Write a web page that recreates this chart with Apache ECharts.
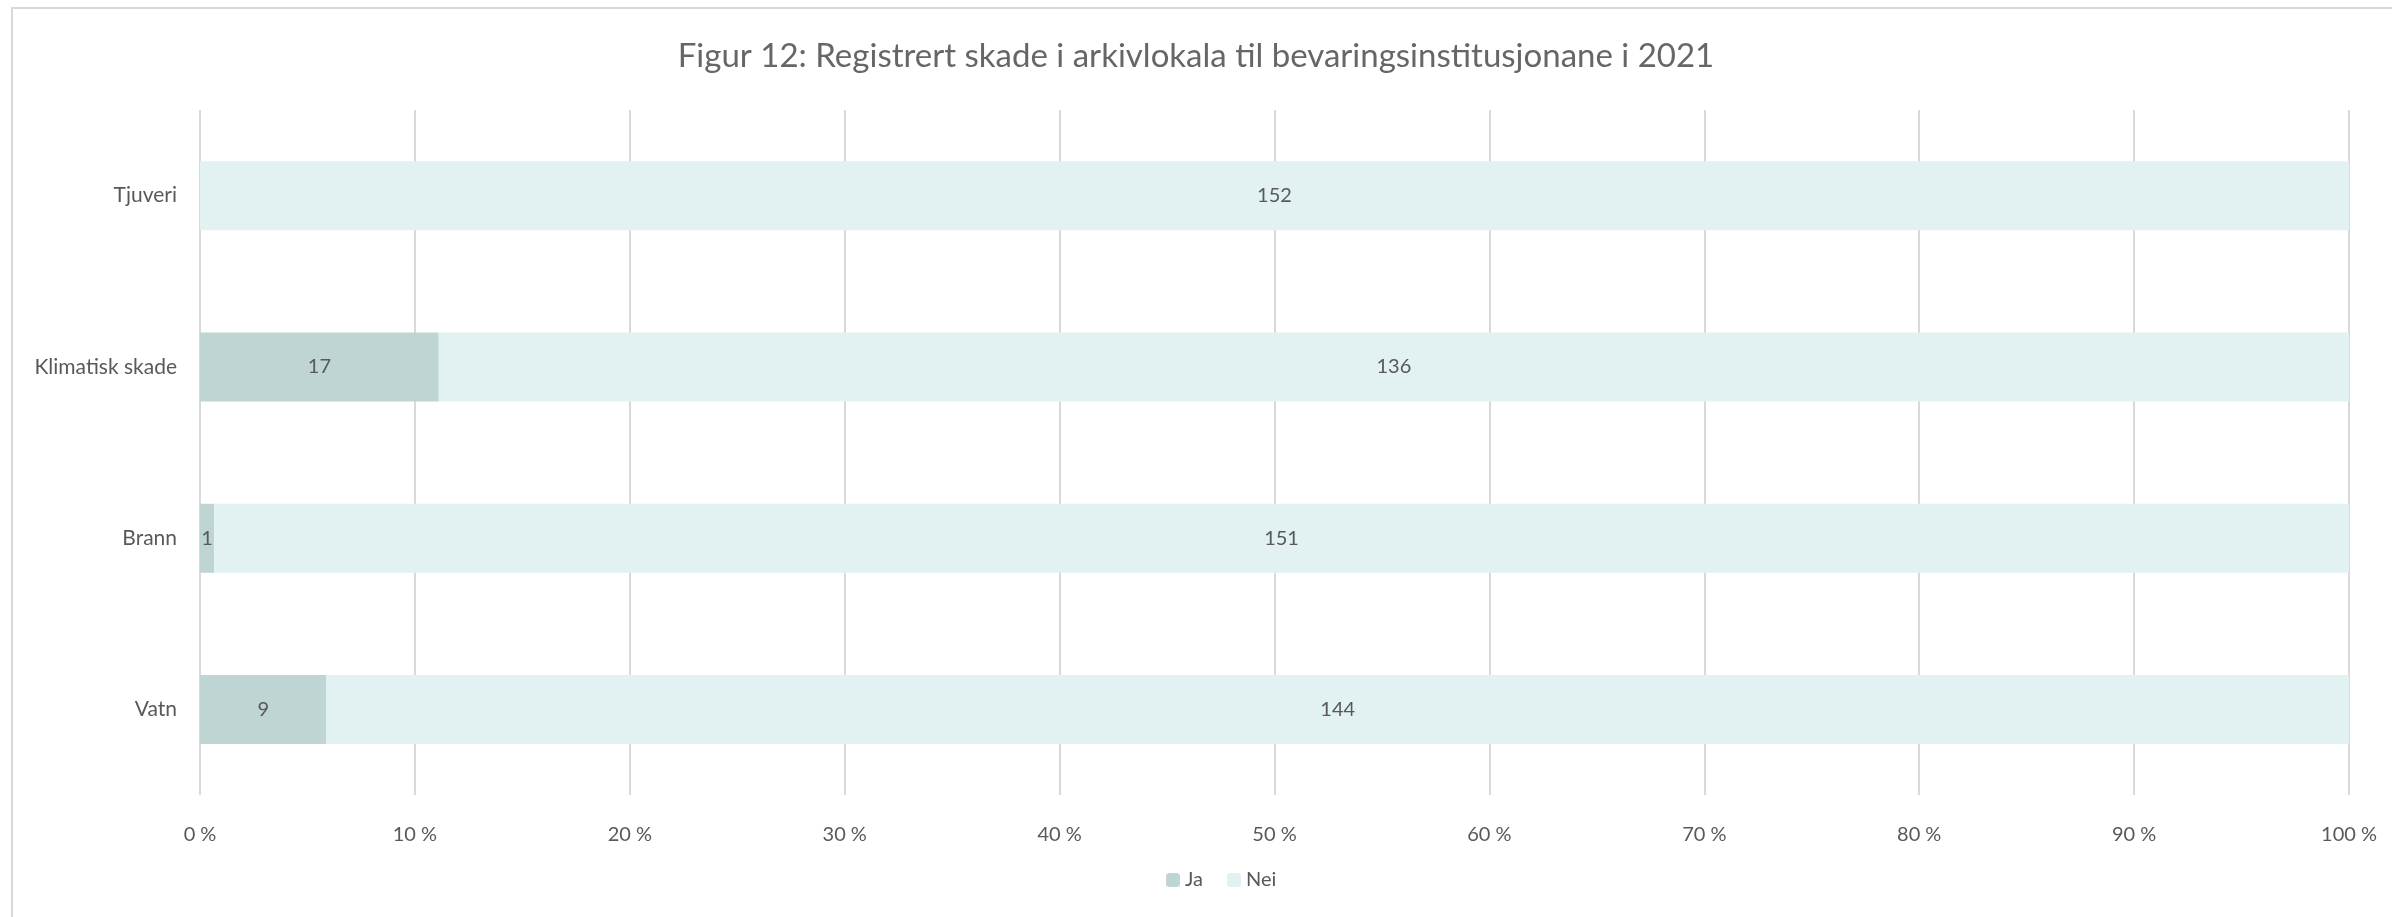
<!DOCTYPE html>
<html>
<head>
    <meta charset="utf-8"/>
    <style>
        html, body {
            height: 100%;
            margin: 0;
            padding: 0;
            background: #ffffff;
        }

        .container {
            width: 100%;
            height: 100%;
        }
    </style>
</head>
<body>
<div id="main" class="container"></div>

<script src="https://cdn.jsdelivr.net/npm/echarts@6/dist/echarts.min.js"></script>
<script type="text/javascript">
    // data
    var categories = ['Vatn', 'Brann', 'Klimatisk skade', 'Tjuveri'];
    var jaValues = [9, 1, 17, 0];
    var neiValues = [144, 151, 136, 152];
    var tickLabels = ['0 %', '10 %', '20 %', '30 %', '40 %', '50 %', '60 %', '70 %', '80 %', '90 %', '100 %'];

    var textColor = '#595959';
    var font = 'Lato';

    // 100 % stacked: share of each answer per row, raw count kept for the label
    function toShare(values) {
        return values.map(function (v, i) {
            var total = jaValues[i] + neiValues[i];
            return {value: v / total * 100, raw: v};
        });
    }

    var myChart = echarts.init(document.getElementById('main'));

    var labelStyle = {
        show: true,
        position: 'inside',
        color: textColor,
        fontFamily: font,
        fontSize: 20,
        formatter: function (p) {
            return p.data.raw > 0 ? p.data.raw : '';
        }
    };

    var option = {
        title: {
            text: 'Figur 12: Registrert skade i arkivlokala til bevaringsinstitusjonane i 2021',
            left: 'center',
            top: 35,
            textStyle: {
                color: '#666666',
                fontFamily: font,
                fontSize: 33,
                fontWeight: 'normal'
            }
        },
        legend: {
            bottom: 22,
            left: 1161,
            itemWidth: 14,
            itemHeight: 14,
            itemGap: 24,
            selectedMode: false,
            data: ['Ja', 'Nei'],
            textStyle: {
                color: textColor,
                fontFamily: font,
                fontSize: 20
            }
        },
        grid: {
            left: 200,
            right: 43,
            top: 110,
            bottom: 122
        },
        xAxis: {
            type: 'value',
            min: 0,
            max: 100,
            interval: 10,
            axisLine: {show: false},
            axisTick: {show: false},
            splitLine: {
                show: true,
                lineStyle: {color: '#d9d9d9', width: 2}
            },
            axisLabel: {
                margin: 30,
                color: textColor,
                fontFamily: font,
                fontSize: 20
            ,
                formatter: function (v) {
                    return tickLabels[Math.round(v / 10)];
                }
            }
        },
        yAxis: {
            type: 'category',
            data: categories,
            axisLine: {show: false},
            axisTick: {show: false},
            axisLabel: {
                margin: 23,
                color: textColor,
                fontFamily: font,
                fontSize: 21
            }
        },
        graphic: [{
            type: 'rect',
            shape: {x: 12, y: 8, width: 2500, height: 1000},
            style: {fill: 'none', stroke: '#d9d9d9', lineWidth: 2},
            silent: true
        }],
        series: [{
            name: 'Ja',
            type: 'bar',
            stack: 'total',
            barWidth: 69,
            itemStyle: {color: '#bfd5d3'},
            label: labelStyle,
            data: toShare(jaValues)
        }, {
            name: 'Nei',
            type: 'bar',
            stack: 'total',
            barWidth: 69,
            itemStyle: {color: '#e2f1f1'},
            label: labelStyle,
            data: toShare(neiValues)
        }]
    };

    myChart.setOption(option);
</script>
</body>
</html>
